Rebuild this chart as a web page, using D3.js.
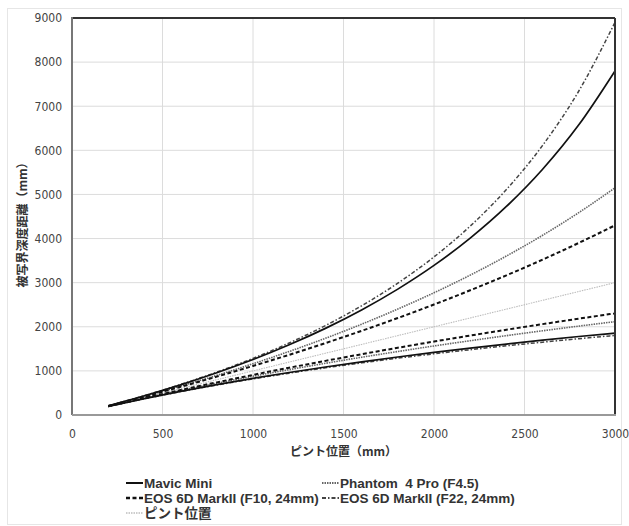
<!DOCTYPE html>
<html><head><meta charset="utf-8">
<script src="https://cdn.jsdelivr.net/npm/d3@7"></script>
<style>
body{margin:0;background:#fff;}
svg{display:block;}
.tick text{font-family:"Liberation Sans Narrow","DejaVu Sans Condensed",Arial,sans-serif;}
</style></head>
<body><svg id="c" width="629" height="526"></svg>
<script>
// focus position (mm)
const focusPos = [200,400,600,800,1000,1200,1400,1600,1800,2000,2200,2400,2600,2800,3000];
// depth-of-field limits (mm)
const mavicFar   = [209,436,684,957,1258,1592,1964,2382,2854,3391,4009,4727,5571,6578,7800];
const mavicNear  = [192,370,534,687,830,963,1088,1205,1315,1418,1516,1608,1696,1779,1857];
const phantomFar = [206,424,655,900,1162,1441,1739,2058,2402,2771,3171,3604,4074,4588,5150];
const phantomNear= [195,379,554,720,878,1028,1172,1309,1439,1565,1684,1799,1909,2015,2116];
const eos10Far   = [204,417,639,870,1112,1365,1630,1908,2199,2505,2827,3166,3523,3901,4300];
const eos10Near  = [196,385,566,740,909,1071,1227,1378,1524,1665,1801,1933,2060,2184,2304];
const eos22Far   = [209,439,692,972,1284,1633,2027,2475,2989,3584,4282,5111,6112,7345,8902];
const eos22Near  = [192,368,530,680,819,949,1069,1182,1288,1387,1480,1568,1651,1730,1804];
const focusLine  = [200,400,600,800,1000,1200,1400,1600,1800,2000,2200,2400,2600,2800,3000];
const xTicks = [0,500,1000,1500,2000,2500,3000];
const yTicks = [0,1000,2000,3000,4000,5000,6000,7000,8000,9000];
const legendLabels = ["Mavic Mini","Phantom  4 Pro (F4.5)","EOS 6D MarkII (F10, 24mm)","EOS 6D MarkII (F22, 24mm)","ピント位置"];

const svg = d3.select("#c");
const m = {l:72, r:615, t:18, b:415};
const x = d3.scaleLinear().domain([0,3000]).range([m.l,m.r]);
const y = d3.scaleLinear().domain([0,9000]).range([m.b,m.t]);

// outer frame
svg.append("rect").attr("x",7.5).attr("y",8.5).attr("width",614).attr("height",516)
  .attr("fill","none").attr("stroke","#e6e6e6").attr("stroke-width",1);

// grid
svg.append("g").selectAll("line").data(xTicks.slice(1,-1)).join("line")
  .attr("x1",d=>x(d)).attr("x2",d=>x(d)).attr("y1",m.t).attr("y2",m.b)
  .attr("stroke","#dcdcdc").attr("stroke-width",1);
svg.append("g").selectAll("line").data(yTicks.slice(1,-1)).join("line")
  .attr("x1",m.l).attr("x2",m.r).attr("y1",d=>y(d)).attr("y2",d=>y(d))
  .attr("stroke","#dcdcdc").attr("stroke-width",1);

// axes
const xa = svg.append("g").attr("transform",`translate(0,${m.b})`)
  .call(d3.axisBottom(x).tickValues(xTicks).tickSize(0).tickPadding(14).tickFormat(d3.format("d")));
xa.select(".domain").remove();
xa.selectAll("text").attr("font-size",12).attr("fill","#444");
const ya = svg.append("g").attr("transform",`translate(${m.l},0)`)
  .call(d3.axisLeft(y).tickValues(yTicks).tickSize(0).tickPadding(10).tickFormat(d3.format("d")));
ya.select(".domain").remove();
ya.selectAll("text").attr("font-size",12).attr("fill","#444");

// series
const line = d3.line().x((d,i)=>x(focusPos[i])).y(d=>y(d)).curve(d3.curveMonotoneX);
const styles = {
  mavic:{stroke:"#111",w:1.7,dash:null},
  phantom:{stroke:"#666",w:1.6,dash:"1.5,1"},
  eos10:{stroke:"#111",w:2,dash:"4,2.5"},
  eos22:{stroke:"#444",w:1.5,dash:"4,2,1.5,2"},
  focus:{stroke:"#bdbdbd",w:1.1,dash:"1.5,1"}
};
const series = [
  [focusLine,styles.focus],
  [phantomFar,styles.phantom],[phantomNear,styles.phantom],
  [eos10Far,styles.eos10],[eos10Near,styles.eos10],
  [eos22Far,styles.eos22],[eos22Near,styles.eos22],
  [mavicFar,styles.mavic],[mavicNear,styles.mavic]
];
series.forEach(([vals,s])=>{
  svg.append("path").attr("d",line(vals)).attr("fill","none")
    .attr("stroke",s.stroke).attr("stroke-width",s.w)
    .attr("stroke-dasharray",s.dash);
});

// plot frame
svg.append("line").attr("x1",m.l).attr("x2",m.r).attr("y1",m.t).attr("y2",m.t).attr("stroke","#333").attr("stroke-width",2);
svg.append("line").attr("x1",m.r).attr("x2",m.r).attr("y1",m.t).attr("y2",m.b).attr("stroke","#333").attr("stroke-width",2);
svg.append("line").attr("x1",m.l).attr("x2",m.l).attr("y1",m.t-1).attr("y2",m.b).attr("stroke","#777").attr("stroke-width",2);
svg.append("line").attr("x1",m.l).attr("x2",m.r+1).attr("y1",m.b).attr("y2",m.b).attr("stroke","#999").attr("stroke-width",2);

// axis titles
svg.append("text").attr("x",(m.l+m.r)/2).attr("y",456).attr("text-anchor","middle")
  .attr("font-family","'Noto Sans CJK JP',sans-serif").attr("font-weight","bold").attr("font-size",12).attr("fill","#333")
  .text("ピント位置（mm）");
svg.append("text").attr("transform","translate(27,222) rotate(-90)").attr("text-anchor","middle")
  .attr("font-family","'Noto Sans CJK JP',sans-serif").attr("font-weight","bold").attr("font-size",12).attr("fill","#333")
  .text("被写界深度距離（mm）");

// legend
const legItems = [
  {label:legendLabels[0],s:styles.mavic,x:126,y:483},
  {label:legendLabels[1],s:styles.phantom,x:322,y:483},
  {label:legendLabels[2],s:styles.eos10,x:126,y:498},
  {label:legendLabels[3],s:styles.eos22,x:322,y:498},
  {label:legendLabels[4],s:styles.focus,x:126,y:513}
];
const lg = svg.append("g");
legItems.forEach(it=>{
  lg.append("line").attr("x1",it.x).attr("x2",it.x+17).attr("y1",it.y).attr("y2",it.y)
    .attr("stroke",it.s.stroke).attr("stroke-width",it.s.w+0.3).attr("stroke-dasharray",it.s.dash);
  lg.append("text").attr("x",it.x+18).attr("y",it.y).attr("dy","0.36em")
    .style("white-space","pre")
    .attr("font-family","'Liberation Sans',Arial,'Noto Sans CJK JP',sans-serif")
    .attr("font-weight","bold").attr("font-size",13.5).attr("fill","#333").text(it.label);
});
</script></body></html>
